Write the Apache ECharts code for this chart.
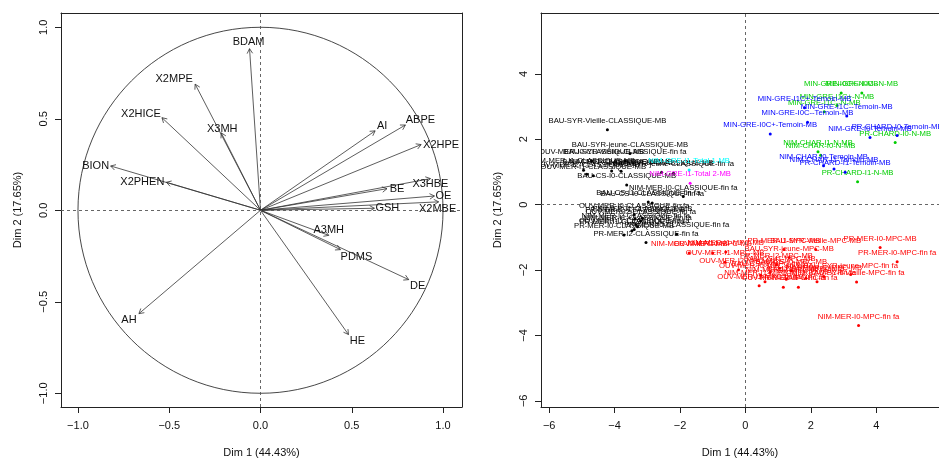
<!DOCTYPE html>
<html>
<head>
<meta charset="utf-8">
<script src="https://cdn.jsdelivr.net/npm/echarts@6/dist/echarts.min.js"></script>
<style>
html,body{margin:0;padding:0;background:#fff;}
#chart{width:939px;height:460px;}
</style>
</head>
<body>
<div id="chart"></div>
<script>
// ---------- Variables factor map (correlation circle) ----------
const varNames = ['BDAM','X2MPE','X2HICE','X3MH','BION','X2PHEN','AH','AI','ABPE','X2HPE','X3HBE','BE','OE','X2MBE','GSH','A3MH','PDMS','DE','HE'];
const varDim1 = [-0.060,-0.358,-0.540,-0.215,-0.821,-0.516,-0.666,0.628,0.794,0.880,0.931,0.693,0.953,0.976,0.624,0.374,0.438,0.812,0.482];
const varDim2 = [0.883,0.689,0.506,0.423,0.242,0.153,-0.565,0.434,0.466,0.359,0.173,0.118,0.078,0.046,0.011,-0.137,-0.215,-0.379,-0.679];
const circleTicks = [-1.0,-0.5,0.0,0.5,1.0];

// ---------- Individuals factor map ----------
const classiqueNames = ['BAU-SYR-Vieille-CLASSIQUE-MB','BAU-SYR-jeune-CLASSIQUE-MB','OUV-MER-I0-CLASSIQUE-MB','BAU-SYR-Vieille-CLASSIQUE-fin fa','NIM-MER-I1-CLASSIQUE-MB','BAU-CS-I1-CLASSIQUE-MB','NIM-MER-I0-CLASSIQUE-MB','BAU-SYR-jeune-CLASSIQUE-fin fa','OUV-MER-I1-CLASSIQUE-MB','OUV-MER-I2-CLASSIQUE-MB','NIM-MER-I2-CLASSIQUE-MB','BAU-CS-I0-CLASSIQUE-MB','NIM-MER-I0-CLASSIQUE-fin fa','BAU-CS-I1-CLASSIQUE-fin fa','BAU-CS-I0-CLASSIQUE-fin fa','OUV-MER-I0-CLASSIQUE-fin fa','PR-MER-I1-CLASSIQUE-MB','NIM-MER-I2-CLASSIQUE-fin fa','OUV-MER-I2-CLASSIQUE-fin fa','NIM-MER-I1-CLASSIQUE-fin fa','OUV-MER-I1-CLASSIQUE-fin fa','PR-MER-I0-CLASSIQUE-MB','PR-MER-I0-CLASSIQUE-fin fa','PR-MER-I1-CLASSIQUE-fin fa','PR-MER-I2-CLASSIQUE-fin fa','PR-MER-I2-CLASSIQUE-MB'];
const classiqueDim1 = [-4.22,-3.53,-4.70,-3.68,-4.95,-4.09,-2.56,-2.20,-4.65,-4.85,-3.80,-3.63,-1.90,-2.97,-2.85,-3.40,-3.15,-3.35,-3.20,-3.30,-3.40,-3.71,-2.10,-3.47,-3.04,-3.37];
const classiqueDim2 = [2.29,1.56,1.33,1.33,1.05,1.03,0.99,0.96,0.88,0.93,1.02,0.60,0.25,0.08,0.05,-0.30,-0.42,-0.61,-0.50,-0.68,-0.76,-0.93,-0.91,-0.80,-1.16,-0.44];

const mpcNames = ['NIM-MER-I0-MPC-MB','OUV-MER-I0-MPC-MB','NIM-MER-I1-MPC-MB','OUV-MER-I1-MPC-MB','OUV-MER-I2-MPC-MB','PR-MER-I1-MPC-MB','BAU-SYR-Vieille-MPC-MB','BAU-SYR-jeune-MPC-MB','PR-MER-I0-MPC-MB','PR-MER-I0-MPC-fin fa','BAU-SYR-jeune-MPC-fin fa','BAU-SYR-Vieille-MPC-fin fa','NIM-MER-I0-MPC-fin fa','OUV-MER-I0-MPC-fin fa','BAU-CS-I0-MPC-fin fa','BAU-CS-I1-MPC-MB','BAU-CS-I0-MPC-MB','BAU-CS-I1-MPC-fin fa','NIM-MER-I1-MPC-fin fa','NIM-MER-I2-MPC-fin fa','OUV-MER-I1-MPC-fin fa','OUV-MER-I2-MPC-fin fa','PR-MER-I1-MPC-fin fa','PR-MER-I2-MPC-fin fa','PR-MER-I2-MPC-MB','NIM-MER-I2-MPC-MB'];
const mpcDim1 = [-1.72,-1.00,-0.60,-0.62,-0.21,1.18,2.15,1.34,4.12,4.64,3.22,3.40,3.46,0.47,0.75,1.05,1.40,1.85,0.60,1.25,0.42,1.16,1.62,2.19,0.95,2.40];
const mpcDim2 = [-1.48,-1.48,-1.45,-1.76,-1.99,-1.37,-1.37,-1.62,-1.31,-1.75,-2.14,-2.37,-3.70,-2.16,-2.08,-1.95,-2.02,-2.25,-2.36,-2.28,-2.48,-2.53,-2.53,-2.36,-1.85,-2.20];

const nNames = ['MIN-GRE-I0C+-N-MB','MIN-GRE-I0C--N-MB','MIN-GRE-I1C+-N-MB','MIN-GRE-I1C--N-MB','NIM-CHAR-I1-N-MB','NIM-CHAR-I0-N-MB','PR-CHARD-I0-N-MB','PR-CHARD-I1-N-MB'];
const nDim1 = [2.93,3.56,2.80,2.41,2.22,2.30,4.58,3.43];
const nDim2 = [3.41,3.41,3.03,2.84,1.62,1.51,1.90,0.70];

const temoinNames = ['MIN-GRE-I1C+-Temoin-MB','MIN-GRE-I1C--Temoin-MB','MIN-GRE-I0C--Temoin-MB','MIN-GRE-I0C+-Temoin-MB','NIM-GRE-I0-Temoin-MB','PR-CHARD-I0-Temoin-MB','NIM-CHAR-I0-Temoin-MB','NIM-CHAR-I1-Temoin-MB','PR-CHARD-I1-Temoin-MB'];
const temoinDim1 = [1.81,3.10,1.90,0.76,3.81,4.64,2.39,2.71,3.05];
const temoinDim2 = [2.96,2.71,2.52,2.16,2.05,2.11,1.19,1.09,0.99];

const total1Names = ['NIM-GRE-I1-Total 1-MB'];
const total1Dim1 = [-1.72];
const total1Dim2 = [1.06];

const total2Names = ['NIM-GRE-I1-Total 2-MB'];
const total2Dim1 = [-1.69];
const total2Dim2 = [0.65];

const indTicks = [-6,-4,-2,0,2,4,6];

// ---------- styles (not data) ----------
const FONT = '"Liberation Sans", Arial, Helvetica, sans-serif';
const varLabelOffset = {
  BDAM:[-1,-7], X2MPE:[-21,-5], X2HICE:[-21,-4], X3MH:[1,-4], BION:[-15,0], X2PHEN:[-24,0],
  AH:[-10,6], AI:[7,-5], ABPE:[15,-5], X2HPE:[20,0], X3HBE:[0,5], BE:[10,0], OE:[9,0],
  X2MBE:[-1,7], GSH:[13,0], A3MH:[0,-5], PDMS:[16,7], DE:[9,6], HE:[9,6]
};
const fmtMinus = s => String(s).replace('-', '\u2212');
const BOX = '#222';

const chart = echarts.init(document.getElementById('chart'), null, {renderer:'canvas'});

function mkAxis(extra, ticks, fmt, rotate, margin){
  return Object.assign({
    type:'value',
    axisLine:{show:true, onZero:false, lineStyle:{color:BOX, width:1}},
    splitLine:{show:false},
    axisTick:{show:true, inside:false, length:6, lineStyle:{color:BOX, width:1}, customValues:ticks},
    axisLabel:{color:'#111', fontFamily:FONT, fontSize:11, margin:margin, rotate:rotate, customValues:ticks, formatter:fmt},
    nameTextStyle:{color:'#111', fontFamily:FONT, fontSize:11},
    nameLocation:'middle'
  }, extra);
}
function frameAxis(extra){
  return Object.assign({
    type:'value',
    axisLine:{show:true, onZero:false, lineStyle:{color:BOX, width:1}},
    splitLine:{show:false}, axisTick:{show:false}, axisLabel:{show:false}
  }, extra);
}

const varData = varNames.map((n,i)=>[varDim1[i], varDim2[i]]);
function makeInd(names, d1, d2){ return names.map((n,i)=>[d1[i], d2[i]]); }

const groups = [
  {names:classiqueNames, d1:classiqueDim1, d2:classiqueDim2, color:'#000000'},
  {names:mpcNames, d1:mpcDim1, d2:mpcDim2, color:'#FF0000'},
  {names:nNames, d1:nDim1, d2:nDim2, color:'#00CD00'},
  {names:temoinNames, d1:temoinDim1, d2:temoinDim2, color:'#0000FF'},
  {names:total1Names, d1:total1Dim1, d2:total1Dim2, color:'#00FFFF'},
  {names:total2Names, d1:total2Dim1, d2:total2Dim2, color:'#FF00FF'}
];

const indSeries = groups.map(g => ({
  type:'custom',
  xAxisIndex:1, yAxisIndex:1,
  clip:true,
  silent:true,
  data:makeInd(g.names, g.d1, g.d2),
  renderItem:(params, api) => {
    const p = api.coord([api.value(0), api.value(1)]);
    return {type:'group', children:[
      {type:'circle', shape:{cx:p[0], cy:p[1], r:1.5}, style:{fill:g.color}},
      {type:'text', x:p[0], y:p[1]-9, style:{text:g.names[params.dataIndex], fill:g.color, font:'7.7px '+FONT, align:'center', verticalAlign:'middle'}}
    ]};
  }
}));

const fmt1 = v => fmtMinus(v.toFixed(1));
const fmt0 = v => fmtMinus(v);

const option = {
  animation:false,
  backgroundColor:'#ffffff',
  grid:[
    {left:61, top:13, width:401, height:394, show:false, containLabel:false, outerBoundsMode:'none'},
    {left:541, top:13, width:398, height:394, show:false, containLabel:false, outerBoundsMode:'none'}
  ],
  xAxis:[
    mkAxis({gridIndex:0, position:'bottom', min:-1.093, max:1.104, name:'Dim 1 (44.43%)', nameGap:40}, circleTicks, fmt1, 0, 13),
    mkAxis({gridIndex:1, position:'bottom', min:-6.25, max:5.92, name:'Dim 1 (44.43%)', nameGap:40}, indTicks, fmt0, 0, 13),
    frameAxis({gridIndex:0, position:'top', min:-1.093, max:1.104}),
    frameAxis({gridIndex:1, position:'top', min:-6.25, max:5.92})
  ],
  yAxis:[
    mkAxis({gridIndex:0, position:'left', min:-1.075, max:1.078, name:'Dim 2 (17.65%)', nameGap:38, nameRotate:90}, circleTicks, fmt1, 90, 12),
    mkAxis({gridIndex:1, position:'left', min:-6.19, max:5.86, name:'Dim 2 (17.65%)', nameGap:38, nameRotate:90}, indTicks, fmt0, 90, 12),
    frameAxis({gridIndex:0, position:'right', min:-1.075, max:1.078})
  ],
  series:[
    {
      type:'custom', xAxisIndex:0, yAxisIndex:0, silent:true,
      data:[[0,0]],
      renderItem:(params, api) => {
        const c = api.coord([0,0]);
        const rx = api.coord([1,0])[0]-c[0];
        const ry = c[1]-api.coord([0,1])[1];
        return {type:'ellipse', shape:{cx:c[0], cy:c[1], rx:rx, ry:ry}, style:{fill:null, stroke:'#333', lineWidth:0.9}};
      },
      markLine:{silent:true, symbol:['none','none'], label:{show:false},
        lineStyle:{type:[3,3], color:'#555', width:0.9},
        data:[{xAxis:0},{yAxis:0}]}
    },
    {
      type:'custom', xAxisIndex:0, yAxisIndex:0, silent:true,
      data:varData,
      renderItem:(params, api) => {
        const o = api.coord([0,0]);
        const t = api.coord([api.value(0), api.value(1)]);
        const ang = Math.atan2(t[1]-o[1], t[0]-o[0]);
        const L = 5.5, A = Math.PI/6;
        const name = varNames[params.dataIndex];
        const off = varLabelOffset[name] || [0,0];
        return {type:'group', children:[
          {type:'line', shape:{x1:o[0], y1:o[1], x2:t[0], y2:t[1]}, style:{stroke:'#333', lineWidth:0.8}},
          {type:'polyline', shape:{points:[[t[0]-L*Math.cos(ang-A), t[1]-L*Math.sin(ang-A)], [t[0],t[1]], [t[0]-L*Math.cos(ang+A), t[1]-L*Math.sin(ang+A)]]}, style:{stroke:'#333', lineWidth:0.8, fill:null}},
          {type:'text', x:t[0]+off[0], y:t[1]+off[1], style:{text:name, fill:'#111', font:'11px '+FONT, align:'center', verticalAlign:'middle'}}
        ]};
      }
    },
    {
      type:'custom', xAxisIndex:1, yAxisIndex:1, silent:true,
      data:[],
      renderItem:() => null,
      markLine:{silent:true, symbol:['none','none'], label:{show:false},
        lineStyle:{type:[3,3], color:'#555', width:0.9},
        data:[{xAxis:0},{yAxis:0}]}
    }
  ].concat(indSeries)
};
chart.setOption(option);
</script>
</body>
</html>
